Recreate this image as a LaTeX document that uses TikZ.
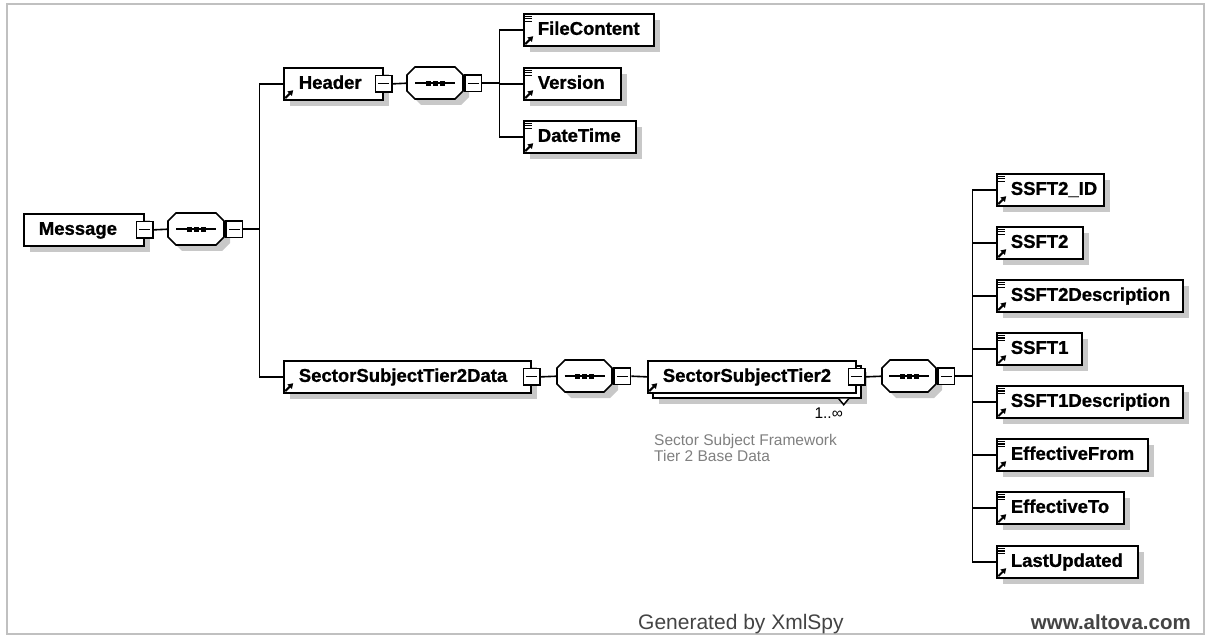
\documentclass[tikz,border=0pt]{standalone}
\usepackage{fontspec}
\setmainfont{Liberation Sans}
\newfontfamily\elemfont{Liberation Sans}[BoldFeatures={FakeBold=1}]
\usetikzlibrary{shadows,arrows.meta}
\definecolor{framegray}{HTML}{C0C0C0}
\definecolor{shadowgray}{HTML}{C8C8C8}
\definecolor{notegray}{HTML}{808080}
\definecolor{footgray}{HTML}{444444}

% "simple content" mark: three short strokes in the top-left corner
\newcommand\simplemark[1]{%
  \foreach \d in {3.2,5.9,8.6}{\draw[line width=1.2pt] ([xshift=1.5pt,yshift=-\d pt]#1.north west) -- ++(7,0);}}
% "reference" mark: small arrow in the bottom-left corner
\newcommand\refmark[1]{%
  \draw[line width=2pt,-{Triangle[length=5pt,width=6pt]}] ([xshift=2.2pt,yshift=2.5pt]#1.south west) -- ++(8,-8);}
% leaf element: name, x, y, width, label
\newcommand\leafbox[5]{%
  \node[elem,text width=#4pt] (#1) at (#2,#3) {\hspace*{14pt}#5};
  \simplemark{#1}\refmark{#1}}
% octagon outline of a sequence compositor: x, y, width (height 32)
\newcommand\octa[3]{(#1+8,#2) -- (#1+#3-8,#2) -- (#1+#3,#2+8) -- (#1+#3,#2+24)
  -- (#1+#3-8,#2+32) -- (#1+8,#2+32) -- (#1,#2+24) -- (#1,#2+8) -- cycle}
% sequence compositor: name, x, y, width
\newcommand\seqbox[4]{%
  \fill[shadowgray] \octa{#2+6}{#3+6}{#4};
  \draw[line width=1.7pt,fill=white] \octa{#2}{#3}{#4};
  \node[seqspot,minimum width=#4pt] (#1) at (#2,#3) {};
  \draw[line width=1.5pt] ([xshift=-20pt]#1.center) -- ([xshift=20pt]#1.center);
  \foreach \dx in {-7,0,7}{\fill ([xshift=\dx pt]#1.center) +(-2.4,-2.4) rectangle +(2.4,2.4);}}

\tikzset{
  conn/.style={line width=1.6pt,black},
  boxshadow/.style={drop shadow={shadow xshift=6pt,shadow yshift=-6pt,opacity=1,fill=shadowgray}},
  elembase/.style={draw,line width=1.7pt,fill=white,anchor=north west,minimum height=32pt,
    inner sep=0pt,align=left,text height=13.5pt,text depth=3.5pt,
    font=\elemfont\bfseries\fontsize{18.5}{20}\selectfont},
  elem/.style={elembase,boxshadow},
  seqspot/.style={rectangle,anchor=north west,minimum height=32pt,inner sep=0pt},
  minus/.style={draw,line width=1.5pt,fill=white,minimum size=16.5pt,inner sep=0pt,
    path picture={\draw[line width=1.2pt] ([xshift=3pt]path picture bounding box.west)
      -- ([xshift=-3pt]path picture bounding box.east);}},
}

\begin{document}
\begin{tikzpicture}[x=1pt,y=-1pt]
\useasboundingbox (0,0) rectangle (1207,636);
\fill[white] (0,0) rectangle (1207,636);
\draw[framegray,line width=2.5pt] (7,4) rectangle (1204,634);

% root element and its sequence
\node[elem,text width=120pt] (msg) at (23,213) {\hspace*{15pt}Message};
\node[minus] (msgm) at (msg.east) {};
\seqbox{s1}{168}{213}{56}
\node[minus,anchor=west] (s1m) at ([xshift=1pt]s1.east) {};

% Header branch
\node[elem,text width=99pt] (hdr) at (283,67) {\hspace*{15pt}Header};
\refmark{hdr}
\node[minus] (hdrm) at (hdr.east) {};
\seqbox{s2}{407}{67}{56}
\node[minus,anchor=west] (s2m) at ([xshift=1pt]s2.east) {};
\leafbox{fc}{523}{13}{130}{FileContent}
\leafbox{ver}{523}{67}{97}{Version}
\leafbox{dt}{523}{120}{112}{DateTime}

% data branch
\node[elem,text width=247pt] (sstd) at (283,360) {\hspace*{15pt}SectorSubjectTier2Data};
\refmark{sstd}
\node[minus] (sstdm) at (sstd.east) {};
\seqbox{s3}{557}{360}{55}
\node[minus,anchor=west] (s3m) at ([xshift=1pt]s3.east) {};

% repeated element: back frame, then front box
\node[elembase,minimum width=208pt,boxshadow] (sst2b) at (652,365) {};
\draw[line width=1.5pt,fill=white] ([xshift=-23pt]sst2b.south east) -- ++(5,6) -- ++(5,-6);
\node[elembase,text width=208pt] (sst2) at (647,360) {\hspace*{15pt}SectorSubjectTier2};
\refmark{sst2}
\node[minus] (sst2m) at (sst2.east) {};
\seqbox{s4}{882}{360}{54}
\node[minus,anchor=west] (s4m) at ([xshift=1pt]s4.east) {};

\leafbox{a1}{996}{173}{107}{SSFT2\_ID}
\leafbox{a2}{996}{226}{86}{SSFT2}
\leafbox{a3}{996}{279}{186}{SSFT2Description}
\leafbox{a4}{996}{332}{85}{SSFT1}
\leafbox{a5}{996}{385}{186}{SSFT1Description}
\leafbox{a6}{996}{438}{151}{EffectiveFrom}
\leafbox{a7}{996}{491}{127}{EffectiveTo}
\leafbox{a8}{996}{545}{141}{LastUpdated}

% connectors
\draw[conn] (msgm.east) -- (s1.west);
\coordinate (b1) at ([xshift=16pt]s1m.east);
\draw[conn] (s1m.east) -- (b1);
\draw[conn] (hdr.west) -| (b1);
\draw[conn] (sstd.west) -| (b1);

\draw[conn] (hdrm.east) -- (s2.west);
\coordinate (b2) at ([xshift=17pt]s2m.east);
\draw[conn] (s2m.east) -- (b2);
\foreach \n in {fc,ver,dt}{\draw[conn] (\n.west) -| (b2);}

\draw[conn] (sstdm.east) -- (s3.west);
\draw[conn] (s3m.east) -- (sst2.west);
\draw[conn] (sst2m.east) -- (s4.west);
\coordinate (b3) at ([xshift=17pt]s4m.east);
\draw[conn] (s4m.east) -- (b3);
\foreach \n in {a1,a2,a3,a4,a5,a6,a7,a8}{\draw[conn] (\n.west) -| (b3);}

% occurrence and annotation
\node[anchor=base east,inner sep=0pt,font=\fontsize{15.5}{17}\selectfont] (mult) at (843,418) {1..∞};
\node[anchor=north west,align=left,inner sep=0pt,text=notegray,
  font=\fontsize{15.5}{16.5}\selectfont] (note) at (654,434) {Sector Subject Framework\\Tier 2 Base Data};

% footer
\node[anchor=base west,inner sep=0pt,text=footgray,font=\fontsize{21}{23}\selectfont] (gen) at (638,629) {Generated by XmlSpy};
\node[anchor=base east,inner sep=0pt,text=footgray,font=\bfseries\fontsize{20.5}{22}\selectfont] (alt) at (1191,629) {www.altova.com};
\end{tikzpicture}
\end{document}
